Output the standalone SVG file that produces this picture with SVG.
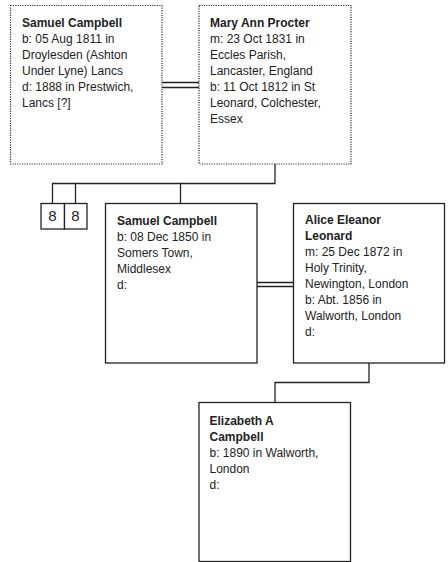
<svg xmlns="http://www.w3.org/2000/svg" width="448" height="562" viewBox="0 0 448 562">
<style>
.dot{fill:#fff;stroke:#333;stroke-width:1.2;stroke-dasharray:1.2 1.2}
.box{fill:#fff;stroke:#222;stroke-width:1.3}
.ln{fill:none;stroke:#222;stroke-width:1.3}
text{font-family:"Liberation Sans",Arial,sans-serif;font-size:12px;fill:#222}
.nm{font-weight:bold}
.num{font-size:15px;text-anchor:middle}
</style>
<rect width="448" height="562" fill="#fff"/>
<g id="connectors">
<line class="ln" x1="162" y1="82.5" x2="199" y2="82.5"/>
<line class="ln" x1="162" y1="87.5" x2="199" y2="87.5"/>
<polyline class="ln" points="275,164 275,183.5 52.5,183.5 52.5,203.5"/>
<line class="ln" x1="75.5" y1="183.5" x2="75.5" y2="203.5"/>
<line class="ln" x1="180.5" y1="183.5" x2="180.5" y2="203.5"/>
<line class="ln" x1="257" y1="282.5" x2="293.5" y2="282.5"/>
<line class="ln" x1="257" y1="286.5" x2="293.5" y2="286.5"/>
<polyline class="ln" points="369,363 369,382.5 275,382.5 275,402.5"/>
</g>
<g id="n1">
<rect class="dot" x="10.5" y="5.5" width="151.5" height="158.5"/>
<text x="22" y="27"><tspan class="nm">Samuel Campbell</tspan><tspan x="22" dy="16">b: 05 Aug 1811 in</tspan><tspan x="22" dy="16">Droylesden (Ashton</tspan><tspan x="22" dy="16">Under Lyne) Lancs</tspan><tspan x="22" dy="16">d: 1888 in Prestwich,</tspan><tspan x="22" dy="16">Lancs [?]</tspan></text>
</g>
<g id="n2">
<rect class="dot" x="199" y="5.5" width="152" height="158.5"/>
<text x="210" y="27"><tspan class="nm">Mary Ann Procter</tspan><tspan x="210" dy="16">m: 23 Oct 1831 in</tspan><tspan x="210" dy="16">Eccles Parish,</tspan><tspan x="210" dy="16">Lancaster, England</tspan><tspan x="210" dy="16">b: 11 Oct 1812 in St</tspan><tspan x="210" dy="16">Leonard, Colchester,</tspan><tspan x="210" dy="16">Essex</tspan></text>
</g>
<g id="n3">
<rect class="box" x="41" y="203.5" width="23.5" height="25.5"/>
<text class="num" x="52.5" y="221">8</text>
</g>
<g id="n4">
<rect class="box" x="64.5" y="203.5" width="22.5" height="25.5"/>
<text class="num" x="75.5" y="221">8</text>
</g>
<g id="n5">
<rect class="box" x="105.5" y="203.5" width="151.5" height="159.5"/>
<text x="117" y="225"><tspan class="nm">Samuel Campbell</tspan><tspan x="117" dy="16">b: 08 Dec 1850 in</tspan><tspan x="117" dy="16">Somers Town,</tspan><tspan x="117" dy="16">Middlesex</tspan><tspan x="117" dy="16">d:</tspan></text>
</g>
<g id="n6">
<rect class="box" x="293.5" y="203.5" width="151" height="159.5"/>
<text x="305" y="224"><tspan class="nm">Alice Eleanor</tspan><tspan class="nm" x="305" dy="16">Leonard</tspan><tspan x="305" dy="16">m: 25 Dec 1872 in</tspan><tspan x="305" dy="16">Holy Trinity,</tspan><tspan x="305" dy="16">Newington, London</tspan><tspan x="305" dy="16">b: Abt. 1856 in</tspan><tspan x="305" dy="16">Walworth, London</tspan><tspan x="305" dy="16">d:</tspan></text>
</g>
<g id="n7">
<rect class="box" x="199" y="402.5" width="151.5" height="159"/>
<text x="209.5" y="425"><tspan class="nm">Elizabeth A</tspan><tspan class="nm" x="209.5" dy="16">Campbell</tspan><tspan x="209.5" dy="16">b: 1890 in Walworth,</tspan><tspan x="209.5" dy="16">London</tspan><tspan x="209.5" dy="16">d:</tspan></text>
</g>
</svg>
